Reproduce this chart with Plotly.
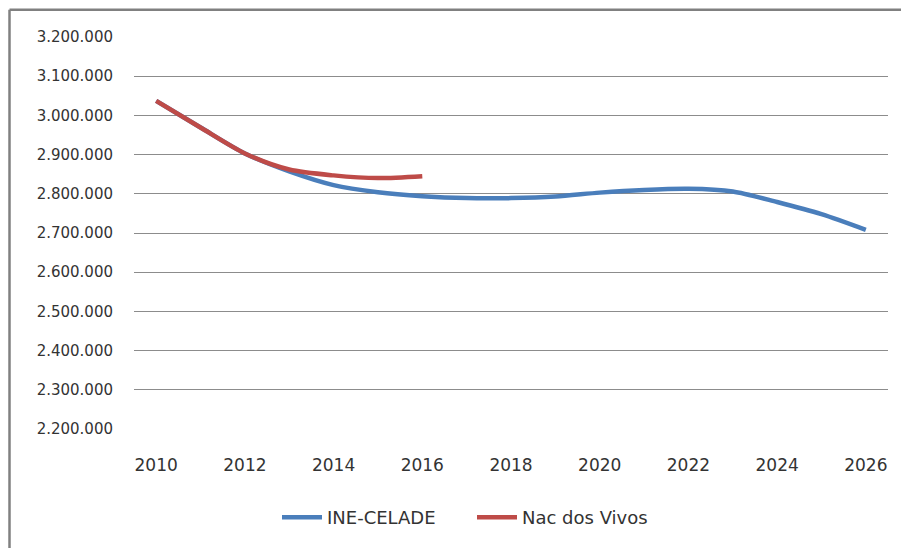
import plotly.graph_objects as go

years = list(range(2010, 2027))
ine_celade = [3037000, 2969000, 2903000, 2857000, 2822000, 2804000, 2794000, 2789000,
              2789000, 2793000, 2803000, 2810000, 2813000, 2806000, 2779000, 2748000, 2708000]
nac_years = list(range(2010, 2017))
nac_vivos = [3037000, 2969000, 2903000, 2862000, 2847000, 2840000, 2845000]

y_ticks = [2200000, 2300000, 2400000, 2500000, 2600000, 2700000, 2800000, 2900000, 3000000, 3100000, 3200000]
x_ticks = list(range(2010, 2027, 2))

fig = go.Figure()
fig.add_trace(go.Scatter(x=years, y=ine_celade, mode="lines", name="INE-CELADE",
                         line=dict(color="#4A7EBB", width=4.5, shape="spline", smoothing=0.8)))
fig.add_trace(go.Scatter(x=nac_years, y=nac_vivos, mode="lines", name="Nac dos Vivos",
                         line=dict(color="#BE4B48", width=4.5, shape="spline", smoothing=0.8)))

# body margin is removed below, so figure pixels equal page pixels
W, H = 901, 548
L, R, T, B = 134, 13, 37, 117
pw, ph = W - L - R, H - T - B

def px(x):
    return (x - L) / pw

def py(y):
    return (H - B - y) / ph

border = dict(color="#808080", width=2.5)
# outer chart frame: top and left edges (right/bottom fall outside the picture)
fig.add_shape(type="line", xref="paper", yref="paper",
              x0=px(9.5), x1=px(960), y0=py(9.5), y1=py(9.5), line=border, layer="below")
fig.add_shape(type="line", xref="paper", yref="paper",
              x0=px(9.5), x1=px(9.5), y0=py(9.5), y1=py(600), line=border, layer="below")

fig.update_layout(
    width=W, height=H,
    margin=dict(l=L, r=R, t=T, b=B),
    paper_bgcolor="white", plot_bgcolor="white",
    separators=",.",
    font=dict(family="DejaVu Sans", color="#333333"),
    showlegend=True,
    legend=dict(orientation="h", x=px(472), xanchor="center", y=py(520), yanchor="middle",
                font=dict(size=18, color="#333333"), itemwidth=40,
                entrywidth=140, entrywidthmode="pixels"),
    xaxis=dict(range=[2009.5, 2026.5], tickvals=x_ticks, showgrid=False, zeroline=False,
               showline=False, ticks="", tickfont=dict(size=17, color="#333333"),
               ticklabelstandoff=24),
    yaxis=dict(range=[2200000, 3200000], tickvals=y_ticks, tickformat=",d",
               showgrid=True, gridcolor="#8C8C8C", gridwidth=1, zeroline=False,
               showline=False, ticks="", tickfont=dict(size=15, color="#333333"),
               ticklabelstandoff=20),
)

fig.write_html("out.html", config={"displayModeBar": False},
               post_script="document.body.style.margin='0';document.body.style.overflow='hidden';")
